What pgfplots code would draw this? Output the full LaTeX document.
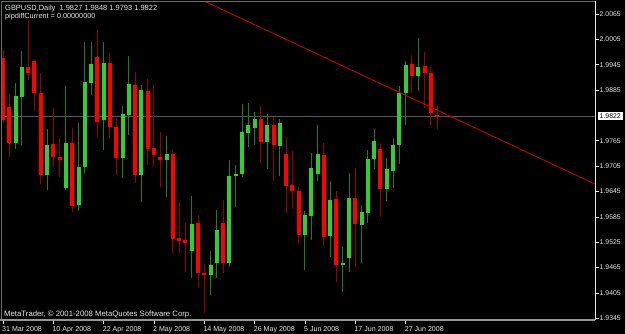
\documentclass[border=0pt]{standalone}
\usepackage{pgfplots}
\pgfplotsset{compat=1.18}
\usepackage{pgfplotstable}
\usepackage{fontspec}
\setmainfont{Liberation Sans}

\definecolor{upbody}{RGB}{50,205,50}
\definecolor{upwick}{RGB}{30,125,30}
\definecolor{dnbody}{RGB}{255,0,0}
\definecolor{dnwick}{RGB}{150,0,0}
\definecolor{framegray}{RGB}{105,110,110}
\definecolor{bottomgray}{RGB}{150,150,150}
\definecolor{pricegray}{RGB}{80,90,90}
\definecolor{trendred}{RGB}{200,0,0}
\definecolor{lbl}{RGB}{232,232,232}

% bullish candles: bar index, open, high, low, close
\pgfplotstableread{
i o h l c
2 1.97598 1.99017 1.97456 1.98710
3 1.98686 1.99775 1.97550 1.99396
7 1.96841 1.97929 1.96486 1.97550
10 1.96533 1.98946 1.96486 1.97598
12 1.96131 1.98071 1.95989 1.97030
13 1.97030 1.99988 1.96888 1.99041
14 1.99017 1.99988 1.98734 1.99467
16 1.98142 1.99988 1.97432 1.99491
19 1.97243 1.98473 1.96770 1.98284
20 1.98260 1.99656 1.97787 1.98994
22 1.96841 1.98970 1.96202 1.98852
26 1.97196 1.97763 1.96320 1.97338
30 1.95043 1.96344 1.94404 1.95681
33 1.94475 1.95043 1.94002 1.94711
34 1.94759 1.96013 1.94404 1.95539
36 1.94759 1.97196 1.94664 1.96817
37 1.96817 1.97077 1.96084 1.96864
38 1.96864 1.98521 1.96793 1.97858
39 1.97834 1.98544 1.97503 1.98024
40 1.97953 1.98331 1.97550 1.98166
42 1.97621 1.98284 1.96983 1.98024
44 1.97527 1.98166 1.96817 1.98071
48 1.95421 1.95989 1.94593 1.95894
49 1.95871 1.97361 1.95303 1.97006
50 1.96864 1.98024 1.96699 1.97338
52 1.95397 1.96699 1.94901 1.96249
54 1.94711 1.95137 1.94073 1.94759
55 1.94877 1.96888 1.94546 1.96297
57 1.95658 1.96131 1.94759 1.95965
58 1.95942 1.97432 1.95705 1.97219
59 1.97219 1.97929 1.96983 1.97645
61 1.96509 1.97243 1.96226 1.96983
62 1.96935 1.97716 1.96533 1.97550
63 1.97550 1.98946 1.97101 1.98781
64 1.98781 1.99538 1.98024 1.99443
66 1.99183 2.00082 1.98828 1.99396
}\up

% bearish candles: bar index, open, high, low, close
\pgfplotstableread{
i o h l c
0 1.99609 1.99798 1.98070 1.98142
1 1.98450 1.98757 1.97267 1.97598
4 1.99396 2.00484 1.99088 1.99254
5 1.99538 1.99562 1.98355 1.98781
6 1.98781 1.99254 1.96628 1.96841
8 1.97574 1.98426 1.97030 1.97267
9 1.97267 1.97716 1.96793 1.97196
11 1.97598 1.97953 1.95965 1.96107
15 1.99633 2.00271 1.97740 1.98095
17 1.99491 1.99727 1.97716 1.97976
18 1.97976 1.98189 1.96841 1.97243
21 1.98970 1.99278 1.96651 1.96841
23 1.98828 1.99112 1.97077 1.97456
24 1.97480 1.98970 1.97030 1.97314
25 1.97267 1.97858 1.96557 1.97196
27 1.97338 1.97432 1.94995 1.95326
28 1.95350 1.96202 1.94995 1.95279
29 1.95303 1.95705 1.94546 1.95232
31 1.95705 1.95894 1.94167 1.94522
32 1.94522 1.94735 1.93576 1.94475
35 1.95705 1.96249 1.94522 1.94759
41 1.98166 1.98473 1.97125 1.97621
43 1.98024 1.98213 1.96699 1.97550
45 1.97338 1.97740 1.95942 1.96580
46 1.96604 1.97409 1.96036 1.96462
47 1.96462 1.96557 1.95232 1.95421
51 1.97314 1.97598 1.95161 1.95374
53 1.96273 1.96462 1.94309 1.94711
56 1.96297 1.97006 1.94664 1.95681
60 1.97456 1.97598 1.95847 1.96509
65 1.99467 1.99680 1.98781 1.99183
67 1.99420 1.99751 1.98426 1.99254
68 1.99254 1.99396 1.98000 1.98308
69 1.98270 1.98480 1.97930 1.98220
}\down

\begin{document}
\begin{tikzpicture}
\fill[black] (0,0) rectangle (625bp,334bp);
\useasboundingbox (0,0) rectangle (625bp,334bp);
\begin{axis}[
  at={(1.5bp,14bp)}, anchor=south west,
  scale only axis, width=593.5bp, height=318.5bp,
  xmin=-0.24, xmax=94.1, ymin=1.9341, ymax=2.0095,
  axis line style={draw=none},
  tick align=outside, major tick length=3.5bp,
  tick style={draw=lbl, line width=0.8bp},
  xtick pos=left, ytick pos=right,
  yticklabel pos=right,
  xtick={0,8,...,64},
  xticklabels={31 Mar 2008,10 Apr 2008,22 Apr 2008,2 May 2008,14 May 2008,26 May 2008,5 Jun 2008,17 Jun 2008,27 Jun 2008},
  ytick={1.9345,1.9405,1.9465,1.9525,1.9585,1.9645,1.9705,1.9765,1.9885,1.9945,2.0005,2.0065},
  scaled ticks=false,
  /pgf/number format/assume math mode=true,
  yticklabel style={/pgf/number format/fixed, /pgf/number format/fixed zerofill, /pgf/number format/precision=4, font=\fontsize{6.9}{8}\selectfont, text=lbl, anchor=west, inner sep=0pt, xshift=1bp},
  xticklabel style={font=\fontsize{7.1}{8}\selectfont, text=lbl, anchor=north west, inner sep=0pt, xshift=-1bp, yshift=-2.5bp},
  clip=true,
]
% bid line
\addplot[pricegray, line width=1bp, forget plot] coordinates {(-0.24,1.9822) (94.1,1.9822)};
% wicks
\addplot[draw=none, forget plot, error bars/.cd, y dir=plus, y explicit, error mark=none,
  error bar style={draw=upwick, line width=1bp}]
  table[x=i, y=l, y error plus expr=\thisrow{h}-\thisrow{l}] {\up};
\addplot[draw=none, forget plot, error bars/.cd, y dir=plus, y explicit, error mark=none,
  error bar style={draw=dnwick, line width=1bp}]
  table[x=i, y=l, y error plus expr=\thisrow{h}-\thisrow{l}] {\down};
% bodies
\addplot[draw=none, forget plot, error bars/.cd, y dir=plus, y explicit, error mark=none,
  error bar style={draw=upbody, line width=4bp}]
  table[x=i, y=o, y error plus expr=\thisrow{c}-\thisrow{o}] {\up};
\addplot[draw=none, forget plot, error bars/.cd, y dir=plus, y explicit, error mark=none,
  error bar style={draw=dnbody, line width=4bp}]
  table[x=i, y=c, y error plus expr=\thisrow{o}-\thisrow{c}] {\down};
% trend line
\addplot[trendred, line width=0.9bp, forget plot] coordinates {(30,2.01098) (94.1,1.96628)};
\end{axis}
\draw[framegray, line width=1.2bp] (1.5bp,14bp) -- (1.5bp,332.5bp) -- (595bp,332.5bp);
\draw[bottomgray, line width=1.2bp] (0bp,14bp) -- (595bp,14bp);
\draw[lbl, line width=1bp] (595bp,14bp) -- (595bp,332.5bp);
\node[fill=white, text=black, inner sep=0pt, minimum width=25.5bp, minimum height=8bp, anchor=west, font=\fontsize{6.9}{8}\selectfont] at (597.3bp,218bp) {1.9822};
\node[anchor=base west, inner sep=0pt, text=lbl, font=\fontsize{7.5}{8}\selectfont] at (5bp,323.3bp) {GBPUSD,Daily\ \ 1.9827 1.9848 1.9793 1.9822};
\node[anchor=base west, inner sep=0pt, text=lbl, font=\fontsize{7.3}{8}\selectfont] at (5bp,315.7bp) {pipdiffCurrent = 0.00000000};
\node[anchor=base west, inner sep=0pt, text=lbl, font=\fontsize{7.8}{8}\selectfont] at (4bp,17.3bp) {MetaTrader, © 2001-2008 MetaQuotes Software Corp.};
\end{tikzpicture}
\end{document}
